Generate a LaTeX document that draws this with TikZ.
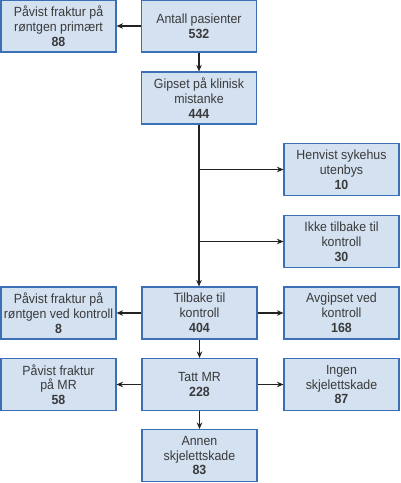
\documentclass[tikz,border=0pt]{standalone}
\usepackage{fontspec}
\setmainfont{Liberation Sans}[FakeStretch=0.93]
\usetikzlibrary{arrows.meta}
\definecolor{boxfill}{HTML}{D3E1F1}
\definecolor{boxline}{HTML}{3B6FB6}
\definecolor{txt}{HTML}{3A3A3A}
\definecolor{arr}{HTML}{222222}
\tikzset{
  box/.style={draw=boxline, fill=boxfill, line width=1.1pt, minimum width=115pt, minimum height=52pt,
    inner sep=0pt, align=center, text=txt, font=\fontsize{13.3}{14.8}\selectfont},
  conn/.style={draw=arr, line width=1.1pt, -{Stealth[length=6.5pt,width=5.5pt]}}
}
\begin{document}
\begin{tikzpicture}[x=1pt,y=-1pt]
\useasboundingbox (0,0) rectangle (400,483);
\node[box] (A)  at (199,26)    {Antall pasienter\\\textbf{532}};
\node[box] (P1) at (58.5,26)   {Påvist fraktur på\\røntgen primært\\\textbf{88}};
\node[box] (G)  at (199,98)    {Gipset på klinisk\\mistanke\\\textbf{444}};
\node[box] (H)  at (341.5,169.5) {Henvist sykehus\\utenbys\\\textbf{10}};
\node[box] (I)  at (341.5,241.5) {Ikke tilbake til\\kontroll\\\textbf{30}};
\node[box] (T)  at (199.5,313) {Tilbake til\\kontroll\\\textbf{404}};
\node[box] (PL) at (58.5,313)  {Påvist fraktur på\\røntgen ved kontroll\\\textbf{8}};
\node[box] (AV) at (341.5,313) {Avgipset ved\\kontroll\\\textbf{168}};
\node[box] (M)  at (199.5,384.5) {Tatt MR\\\textbf{228}};
\node[box] (PM) at (58.5,384.5) {Påvist fraktur\\på MR\\\textbf{58}};
\node[box] (IS) at (341.5,384.5) {Ingen\\skjelettskade\\\textbf{87}};
\node[box] (AN) at (199.5,455.5) {Annen\\skjelettskade\\\textbf{83}};
\draw[conn] (A) -- (P1);
\draw[conn] (A) -- (G);
\draw[conn] (G.south) -- (G.south |- T.north);
\coordinate (b1) at (G.south |- H.west);
\coordinate (b2) at (G.south |- I.west);
\draw[conn] (b1) -- (H.west);
\draw[conn] (b2) -- (I.west);
\draw[conn] (T) -- (PL);
\draw[conn] (T) -- (AV);
\draw[conn] (T) -- (M);
\draw[conn] (M) -- (PM);
\draw[conn] (M) -- (IS);
\draw[conn] (M) -- (AN);
\end{tikzpicture}
\end{document}
